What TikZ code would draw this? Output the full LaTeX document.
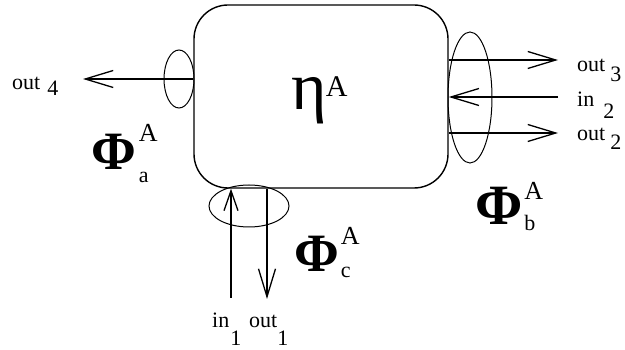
\documentclass[tikz,border=0pt]{standalone}
\usepackage{fontspec}
\setmainfont{Liberation Serif}
\usetikzlibrary{shapes.geometric,arrows.meta}
\pgfdeclarelayer{edgelayer}
\pgfdeclarelayer{nodelayer}
\pgfsetlayers{edgelayer,nodelayer,main}
\newcommand{\fsz}[1]{\fontsize{#1}{#1}\selectfont}
\tikzstyle{edge}=[draw=black, line width=1.3pt, -{Straight Barb[length=28pt,width=17pt]}]
\tikzstyle{port}=[ellipse, draw=black, line width=1pt, inner sep=0pt]
\tikzstyle{block}=[draw=black, line width=1.4pt, rounded corners=34pt, inner sep=0pt]
\tikzstyle{tag}=[inner sep=0pt, anchor=base west, font=\fsz{22}]

\begin{document}
\begin{tikzpicture}[x=1pt, y=-1pt]
				\useasboundingbox (0, 0) rectangle (625, 350);
				\begin{pgfonlayer}{nodelayer}
					\node [style=block, minimum width=254pt, minimum height=183pt] (eta) at (321, 96.5) {};
					\node [style=port, minimum width=30pt, minimum height=58pt] (pa) at (179, 79) {};
					\node [style=port, minimum width=44pt, minimum height=131pt] (pb) at (470, 97.5) {};
					\node [style=port, minimum width=80pt, minimum height=42pt] (pc) at (249, 206) {};
					\node [style=tag, font=\fsz{68}] (teta) at (291, 110) {η\hspace{-1pt}\raisebox{13pt}{\fsz{30}A}};
					\node [style=tag, font=\fsz{54}\bfseries] (tpa) at (91, 170) {Φ\hspace{3pt}\rlap{\raisebox{28pt}{\mdseries\fsz{26}A}}\raisebox{-13pt}{\mdseries\fsz{22}a}};
					\node [style=tag, font=\fsz{57}\bfseries] (tpb) at (475, 225) {Φ\hspace{2pt}\rlap{\raisebox{25pt}{\mdseries\fsz{26}A}}\raisebox{-6pt}{\mdseries\fsz{22}b}};
					\node [style=tag, font=\fsz{54}\bfseries] (tpc) at (294, 272) {Φ\hspace{2pt}\rlap{\raisebox{27pt}{\mdseries\fsz{26}A}}\raisebox{-6pt}{\mdseries\fsz{22}c}};
					\node [style=tag] (tout4) at (12, 90) {out\hspace{7pt}\raisebox{-6pt}{4}};
					\node [style=tag] (tout3) at (577, 72) {out\hspace{5pt}\raisebox{-10pt}{3}};
					\node [style=tag] (tin2) at (577, 107) {in\hspace{9pt}\raisebox{-12pt}{2}};
					\node [style=tag] (tout2) at (577, 141) {out\hspace{5pt}\raisebox{-9pt}{2}};
					\node [style=tag] (tin1) at (212, 327) {in\hspace{1pt}\raisebox{-18pt}{1}};
					\node [style=tag] (tout1) at (249, 327) {out\raisebox{-18pt}{1}};
				\end{pgfonlayer}
				\begin{pgfonlayer}{edgelayer}
					\coordinate (o4) at (83, 79);
					\coordinate (o3) at (558, 60);
					\coordinate (i2) at (558, 97);
					\coordinate (o2) at (558, 133);
					\coordinate (i1) at (231, 298);
					\coordinate (o1) at (267, 299);
					\draw [style=edge] (eta.west |- o4) to (o4);
					\draw [style=edge] (eta.east |- o3) to (o3);
					\draw [style=edge] (i2) to (eta.east |- i2);
					\draw [style=edge] (eta.east |- o2) to (o2);
					\draw [style=edge, -{Straight Barb[length=20pt,width=14pt]}] (i1) to (i1 |- eta.south);
					\draw [style=edge] (o1 |- eta.south) to (o1);
				\end{pgfonlayer}
			\end{tikzpicture}
\end{document}
